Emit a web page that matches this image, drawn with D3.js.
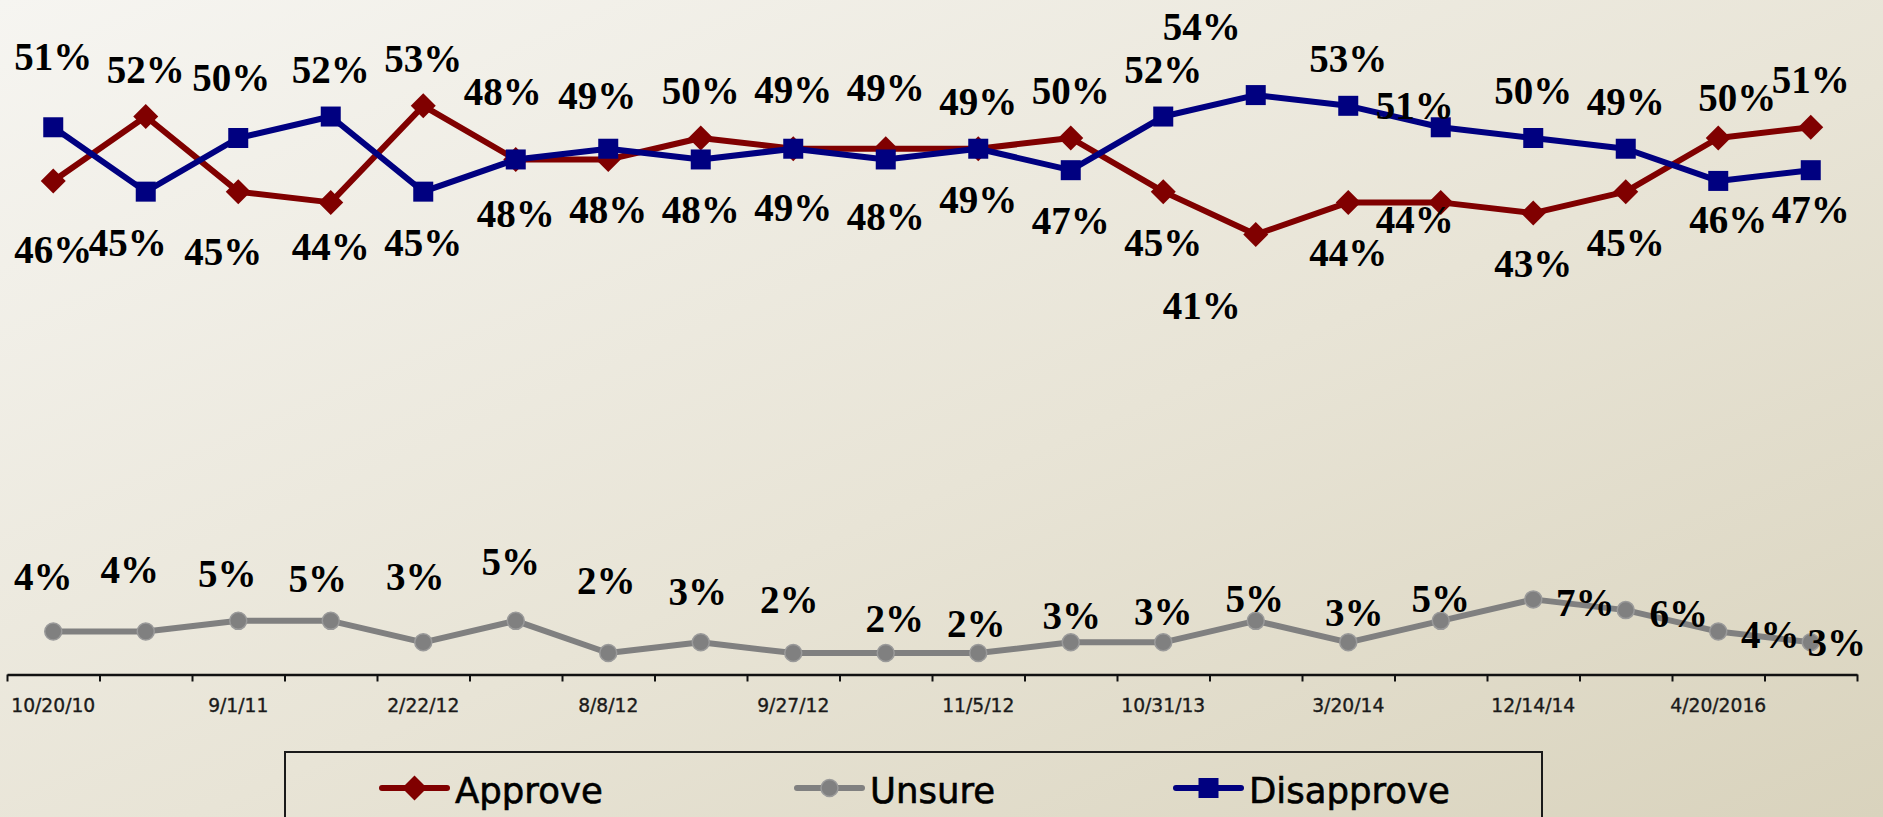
<!DOCTYPE html>
<html>
<head>
<meta charset="utf-8">
<style>
  body { margin: 0; }
  svg { display: block; }
</style>
</head>
<body>
<svg width="1883" height="817"></svg>
<script src="https://d3js.org/d3.v7.min.js"></script>
<script>

// Approve / Unsure / Disapprove line chart, one point per survey

var surveys = d3.range(20);
var tickLabels = ["10/20/10", "", "9/1/11", "", "2/22/12", "", "8/8/12", "", "9/27/12", "",
                  "11/5/12", "", "10/31/13", "", "3/20/14", "", "12/14/14", "", "4/20/2016", ""];
var approve    = [46, 52, 45, 44, 53, 48, 48, 50, 49, 49, 49, 50, 45, 41, 44, 44, 43, 45, 50, 51];
var unsure     = [4, 4, 5, 5, 3, 5, 2, 3, 2, 2, 2, 3, 3, 5, 3, 5, 7, 6, 4, 3];
var disapprove = [51, 45, 50, 52, 45, 48, 49, 48, 49, 48, 49, 47, 52, 54, 53, 51, 50, 49, 46, 47];

// hand nudges for value labels, as in the original slide: index -> [dx, dy]
var approveNudge = {0: [0, 18], 2: [-15, 9], 3: [0, -6], 5: [-13, -20], 8: [0, -12], 9: [0, -14],
                    13: [-54, 20], 15: [-26, -33], 18: [19, 7]};
var disapproveNudge = {0: [0, -23], 1: [-18, 0], 2: [-7, -13], 5: [0, 4], 6: [-11, -6], 8: [0, 8],
                       9: [0, 7], 13: [-54, -21], 15: [-26, 26], 18: [10, -12], 19: [0, -11]};
var unsureOffset = [[-10, -42], [-16, -49], [-11, -34], [-13, -29], [-8, -52], [-5, -46], [-2, -59],
                    [-3, -37], [-4, -40], [9, -21], [-2, -16], [1, -13], [0, -17], [-1, -9], [6, -16],
                    [0, -9], [52, 17], [53, 17], [52, 16], [26, 14]];

var svg = d3.select("svg");

var grad = svg.append("defs").append("linearGradient")
    .attr("id", "bg")
    .attr("x1", 0).attr("y1", 0).attr("x2", 1).attr("y2", 1);
grad.append("stop").attr("offset", "0%").attr("stop-color", "#f6f5f1");
grad.append("stop").attr("offset", "55%").attr("stop-color", "#e8e4d6");
grad.append("stop").attr("offset", "100%").attr("stop-color", "#d9d3bd");

svg.append("rect").attr("width", 1883).attr("height", 817).attr("fill", "url(#bg)");

var x = d3.scaleBand().domain(surveys).range([7, 1857]);
var xEdge = d3.scaleLinear().domain([0, 20]).range([7, 1857]);
var y = d3.scaleLinear().domain([0, 60]).range([674.5, 30.7]);

var cx = function(i) { return x(i) + x.bandwidth() / 2; };

// axis: ticks between surveys, labels on every other survey
svg.append("g")
    .attr("transform", "translate(0," + y(0) + ")")
    .call(d3.axisBottom(xEdge).ticks(20).tickSize(7).tickSizeOuter(0).tickFormat(""))
    .call(function(g) {
      g.select(".domain").attr("stroke", "#111").attr("stroke-width", 2.5);
      g.selectAll(".tick line").attr("stroke", "#111").attr("stroke-width", 2);
    });

svg.append("g")
    .attr("transform", "translate(0," + y(0) + ")")
    .call(d3.axisBottom(x).tickSize(0).tickPadding(24).tickFormat(function(d) { return tickLabels[d]; }))
    .call(function(g) {
      g.select(".domain").remove();
      g.selectAll("text")
          .attr("font-family", "'DejaVu Sans', Verdana, sans-serif")
          .attr("font-size", "18.7px")
          .attr("fill", "#1a1a1a")
          .attr("stroke", "#1a1a1a")
          .attr("stroke-width", 0.35);
    });

var line = d3.line()
    .x(function(d, i) { return cx(i); })
    .y(function(d) { return y(d); });

var series = [
  {name: "Approve", values: approve, color: "#800000", shape: "diamond"},
  {name: "Unsure", values: unsure, color: "#808080", shape: "circle"},
  {name: "Disapprove", values: disapprove, color: "#000080", shape: "square"}
];

function marker(g, shape, color) {
  if (shape === "diamond") {
    g.append("path").attr("d", "M0,-12.5L12.5,0L0,12.5L-12.5,0Z").attr("fill", color);
  } else if (shape === "square") {
    g.append("rect").attr("x", -10).attr("y", -10).attr("width", 20).attr("height", 20).attr("fill", color);
  } else {
    g.append("circle").attr("r", 8.5).attr("fill", color).attr("stroke", "#9a9a9a").attr("stroke-width", 1.5);
  }
}

series.forEach(function(s) {
  svg.append("path")
      .datum(s.values)
      .attr("fill", "none")
      .attr("stroke", s.color)
      .attr("stroke-width", 6)
      .attr("stroke-linejoin", "round")
      .attr("d", line);

  svg.append("g").selectAll("g")
    .data(s.values)
    .join("g")
      .attr("transform", function(d, i) { return "translate(" + cx(i) + "," + y(d) + ")"; })
      .each(function() { marker(d3.select(this), s.shape, s.color); });
});

// value labels
function labelPos(s, d, i) {
  if (s.name === "Unsure") return unsureOffset[i];
  var other = s.name === "Approve" ? disapprove[i] : approve[i];
  var above = s.name === "Approve" ? d >= other : d > other;
  var nudge = (s.name === "Approve" ? approveNudge : disapproveNudge)[i] || [0, 0];
  return [nudge[0], (above ? -34 : 64) + nudge[1]];
}

series.forEach(function(s) {
  svg.append("g").selectAll("text")
    .data(s.values)
    .join("text")
      .attr("x", function(d, i) { return cx(i) + labelPos(s, d, i)[0]; })
      .attr("y", function(d, i) { return y(d) + labelPos(s, d, i)[1]; })
      .attr("text-anchor", "middle")
      .attr("font-family", "'Liberation Serif', 'Times New Roman', serif")
      .attr("font-weight", "bold")
      .attr("font-size", "39px")
      .attr("fill", "#000")
      .text(function(d) { return d + "%"; });
});

// legend
var legendX = [382, 797, 1176];
var legend = svg.append("g");
legend.append("rect")
    .attr("x", 285).attr("y", 752)
    .attr("width", 1257).attr("height", 90)
    .attr("fill", "none")
    .attr("stroke", "#1a1a1a")
    .attr("stroke-width", 2);

series.forEach(function(s, k) {
  var item = legend.append("g").attr("transform", "translate(" + legendX[k] + ",788)");
  item.append("line")
      .attr("x1", 0).attr("x2", 65)
      .attr("stroke", s.color).attr("stroke-width", 6).attr("stroke-linecap", "round");
  marker(item.append("g").attr("transform", "translate(32.5,0)"), s.shape, s.color);
  item.append("text")
      .attr("x", 73).attr("y", 15)
      .attr("font-family", "'DejaVu Sans', Verdana, sans-serif")
      .attr("font-size", "35.5px")
      .attr("fill", "#000")
      .attr("stroke", "#000")
      .attr("stroke-width", 0.6)
      .text(s.name);
});

</script>
</body>
</html>
